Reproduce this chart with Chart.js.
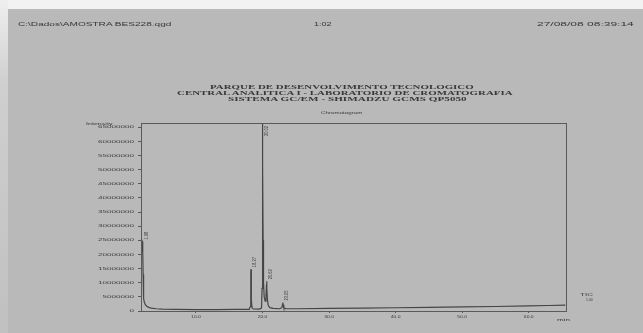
<!DOCTYPE html>
<html>
<head>
<meta charset="utf-8">
<script src="https://cdn.jsdelivr.net/npm/chart.js@4"></script>
<style>
html, body { margin: 0; padding: 0; }
body { width: 643px; height: 333px; overflow: hidden; background: #b9b9b9; }
#page { position: relative; width: 643px; height: 333px; filter: blur(0.45px); }
.edge-top { position: absolute; left: 0; top: 0; width: 643px; height: 9px; background: #f2f2f2; }
.edge-left { position: absolute; left: 0; top: 0; width: 8px; height: 333px; background: linear-gradient(#efefef, #cfcfcf 25%, #c0c0c0); }
.txt { position: absolute; white-space: nowrap; color: #383838; line-height: 1; transform-origin: 0 50%; font-family: "Liberation Sans", Arial, sans-serif; }
canvas { position: absolute; left: 0; top: 0; }
</style>
</head>
<body>
<div id="page">
  <div class="edge-top"></div>
  <div class="edge-left"></div>
  <canvas id="chrom" width="643" height="333"></canvas>
</div>
<script>
// retention time (min) and intensity of the TIC trace
const times = [1.74, 1.80, 1.88, 1.95, 1.98, 2.02, 2.06, 2.10, 2.16, 2.25, 2.40, 2.60, 2.90, 3.30, 4.0, 5.0, 7.0, 10.0, 13.0, 16.0,
  18.00, 18.15, 18.22, 18.25, 18.27, 18.30, 18.34, 18.42, 18.60, 19.50,
  19.85, 19.93, 19.97, 20.00, 20.02, 20.05, 20.09, 20.15, 20.25, 20.40,
  20.52, 20.58, 20.62, 20.67, 20.74, 20.85, 21.10, 21.60, 22.50,
  22.90, 23.00, 23.05, 23.10, 23.20, 23.50, 25.0, 30.0, 35.0, 40.0, 45.0, 50.0, 55.0, 60.0, 63.0, 65.5];
const intensity = [21.0e6, 22.5e6, 23.5e6, 24.3e6, 24.6e6, 21.0e6, 13.0e6, 7.5e6, 4.5e6, 3.0e6, 2.2e6, 1.7e6, 1.3e6, 1.0e6, 0.8e6, 0.65e6, 0.55e6, 0.5e6, 0.5e6, 0.55e6,
  0.6e6, 1.5e6, 8.0e6, 13.5e6, 14.8e6, 11.0e6, 4.0e6, 1.2e6, 0.7e6, 0.65e6,
  1.0e6, 8.0e6, 35.0e6, 62.0e6, 66.4e6, 52.0e6, 25.0e6, 10.0e6, 5.0e6, 3.5e6,
  5.0e6, 8.5e6, 10.5e6, 8.0e6, 4.0e6, 2.0e6, 1.2e6, 0.9e6, 0.8e6,
  1.1e6, 2.3e6, 3.0e6, 2.2e6, 1.1e6, 0.85e6, 0.8e6, 0.9e6, 1.0e6, 1.15e6, 1.3e6, 1.45e6, 1.6e6, 1.8e6, 1.95e6, 2.1e6];

const peakTimes = [1.98, 18.27, 20.02, 20.62, 23.05];
const peakLabels = ['1.98', '18.27', '20.02', '20.62', '23.05'];

const xTickValues = [10, 20, 30, 40, 50, 60];
const yTickValues = [0, 5e6, 10e6, 15e6, 20e6, 25e6, 30e6, 35e6, 40e6, 45e6, 50e6, 55e6, 60e6, 65e6];

const headerTexts = [
  // text, left, centre y, width, font, scaleY
  ['C:\\Dados\\AMOSTRA BES228.qgd', 18, 23, 154, '7px "Liberation Sans"', 0.8],
  ['1:02', 314, 23, 18, '7px "Liberation Sans"', 0.8],
  ['27/08/08 08:39:14', 537, 23, 96, '7px "Liberation Sans"', 0.8],
  ['PARQUE DE DESENVOLVIMENTO TECNOLOGICO', 210, 87, 263, 'bold 7.5px "Liberation Serif"', 0.8],
  ['CENTRAL ANALITICA I - LABORATORIO DE CROMATOGRAFIA', 177, 93, 336, 'bold 7.5px "Liberation Serif"', 0.8],
  ['SISTEMA GC/EM - SHIMADZU GCMS QP5050', 228, 98.7, 239, 'bold 7.5px "Liberation Serif"', 0.8],
  ['Chromatogram', 321, 112, 41, '5px "Liberation Sans"', 0.85],
  ['Intensity', 86, 123, 27, '5px "Liberation Sans"', 0.8],
  ['min', 557, 319.5, 13, '5px "Liberation Sans"', 0.8],
  ['TIC', 580, 294, 13, '5px "Liberation Sans"', 0.8],
  ['1.00', 586, 300, 7, '4px "Liberation Sans"', 0.8]
];

function placeText(text, x, y, width, font, sy) {
  const el = document.createElement('div');
  el.className = 'txt';
  el.textContent = text;
  el.style.font = font;
  el.style.lineHeight = '1';
  document.getElementById('page').appendChild(el);
  const w = el.offsetWidth;
  const h = el.offsetHeight;
  el.style.left = x + 'px';
  el.style.top = (y - h / 2) + 'px';
  el.style.transform = `scale(${width / w}, ${sy})`;
}

function squashText(ctx, text, x, y, sx, sy) {
  ctx.save();
  ctx.translate(x, y);
  ctx.scale(sx, sy);
  ctx.fillText(text, 0, 0);
  ctx.restore();
}

function peakTop(t) {
  let best = 0;
  for (let i = 0; i < times.length; i++) {
    if (Math.abs(times[i] - t) <= 0.08 && intensity[i] > best) best = intensity[i];
  }
  return best;
}

const framePlugin = {
  id: 'frame',
  afterDraw(chart) {
    const ctx = chart.ctx;
    const area = chart.chartArea;
    const xs = chart.scales.x;
    const ys = chart.scales.y;
    ctx.save();
    ctx.strokeStyle = '#5a5a5a';
    ctx.lineWidth = 1;
    ctx.strokeRect(area.left + 0.5, area.top + 0.5, area.right - area.left, area.bottom - area.top);

    ctx.fillStyle = '#3c3c3c';
    ctx.font = '6px "Liberation Sans"';
    ctx.textAlign = 'right';
    ctx.textBaseline = 'middle';
    for (const tick of ys.ticks) {
      squashText(ctx, String(tick.value), 134, ys.getPixelForValue(tick.value), 1.35, 0.7);
    }
    ctx.font = '5px "Liberation Sans"';
    ctx.textAlign = 'center';
    for (const tick of xs.ticks) {
      squashText(ctx, tick.value.toFixed(1), xs.getPixelForValue(tick.value), 317, 1.0, 0.8);
    }

    // vertical retention time labels above peaks
    ctx.font = '5px "Liberation Sans"';
    ctx.textAlign = 'left';
    ctx.textBaseline = 'top';
    peakTimes.forEach((t, i) => {
      const px = xs.getPixelForValue(t) + 1.5;
      let py = ys.getPixelForValue(peakTop(t)) - 2;
      if (py < area.top + 13) py = area.top + 13;
      ctx.save();
      ctx.translate(px, py);
      ctx.rotate(-Math.PI / 2);
      ctx.scale(0.8, 0.9);
      ctx.fillText(peakLabels[i], 0, 0);
      ctx.restore();
    });
    ctx.restore();
  }
};

headerTexts.forEach(h => placeText(...h));

new Chart(document.getElementById('chrom'), {
  type: 'line',
  data: {
    datasets: [{
      label: 'TIC',
      data: times.map((t, i) => ({ x: t, y: intensity[i] })),
      borderColor: '#454545',
      borderWidth: 1.2,
      pointRadius: 0,
      tension: 0,
      fill: false
    }]
  },
  options: {
    responsive: false,
    animation: false,
    layout: { padding: { left: 0, top: 123, right: 77, bottom: 0 } },
    plugins: { legend: { display: false }, tooltip: { enabled: false } },
    scales: {
      x: {
        type: 'linear',
        min: 1.74,
        max: 65.6,
        afterBuildTicks: (scale) => { scale.ticks = xTickValues.map(v => ({ value: v })); },
        afterFit: (scale) => { scale.height = 22; },
        ticks: { display: false },
        border: { display: false },
        grid: { drawOnChartArea: false, tickLength: 2, color: '#5a5a5a' }
      },
      y: {
        min: 0,
        max: 66.5e6,
        afterBuildTicks: (scale) => { scale.ticks = yTickValues.map(v => ({ value: v })); },
        afterFit: (scale) => { scale.width = 141; },
        ticks: { display: false },
        border: { display: false },
        grid: { drawOnChartArea: false, tickLength: 3, color: '#5a5a5a' }
      }
    }
  },
  plugins: [framePlugin]
});
</script>
</body>
</html>
